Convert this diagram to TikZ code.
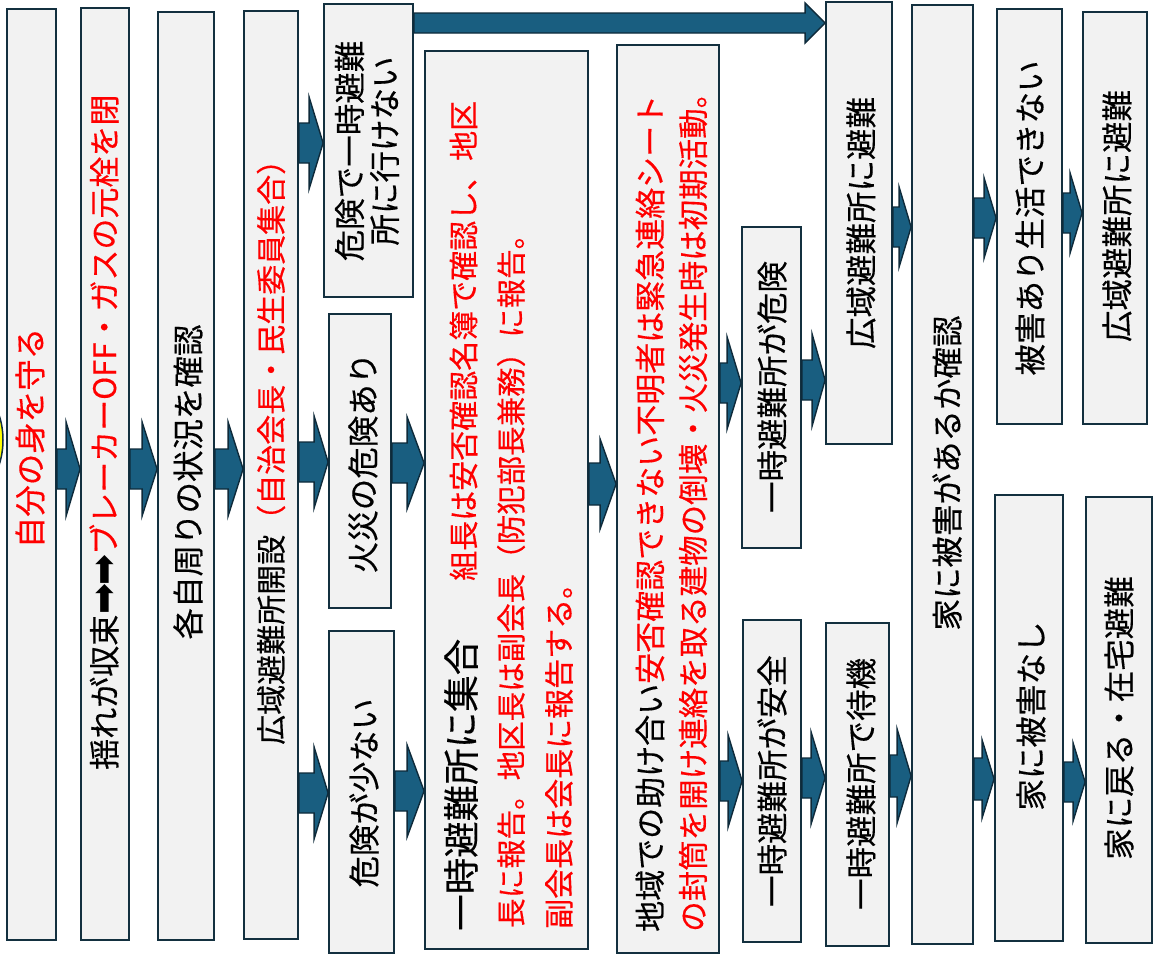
\documentclass[tikz,border=0pt]{standalone}
\usepackage{fontspec}
\setmainfont{Noto Sans CJK JP}[FakeBold=0.35]
\newfontfamily\dv{DejaVu Sans}
\usetikzlibrary{calc}
\definecolor{boxfill}{HTML}{F2F2F2}
\definecolor{boxline}{HTML}{13303F}
\definecolor{arrfill}{HTML}{195E80}
\definecolor{arrline}{HTML}{0E2A3A}
\definecolor{jred}{HTML}{FF0000}
\definecolor{sunyellow}{HTML}{FFFF00}
\tikzset{
  box/.style={draw=boxline, fill=boxfill, line width=1.8pt, rectangle, inner sep=0pt},
  lbl/.style={rotate=90, inner sep=0pt, font=\fontsize{31.5}{36}\selectfont, text=black},
  arr/.style={fill=arrfill, draw=arrline, line width=1.4pt, line join=miter},
}
\newcommand{\bx}[5]{\node[box, minimum width={(#4-#2)*1pt}, minimum height={(#5-#3)*1pt}] (#1) at ({(#2+#4)/2},{(#3+#5)/2}) {};}
\newcommand{\barr}[6]{%
  \path (#1.east |- 0,#3) coordinate (as) (#2.west |- 0,#3) coordinate (ae);
  \draw[arr] let \p1=(as), \p2=(ae) in
    (\x1,\y1+#4pt) -- (\x2-#6pt,\y1+#4pt) -- (\x2-#6pt,\y1+#5pt) -- (\x2,\y1)
    -- (\x2-#6pt,\y1-#5pt) -- (\x2-#6pt,\y1-#4pt) -- (\x1,\y1-#4pt) -- cycle;}
\begin{document}
\begin{tikzpicture}[x=1pt,y=-1pt]
\useasboundingbox (0,0) rectangle (1160,956);
\fill[white] (0,0) rectangle (1160,956);
\begin{scope}
  \clip (0,0) rectangle (1160,956);
  \draw[fill=sunyellow, draw=boxline, line width=1.5pt] (-50,440) ellipse [x radius=53, y radius=66];
\end{scope}
% boxes
\bx{b1}{7}{9}{56}{940}
\bx{b2}{81}{8}{129}{940}
\bx{b3}{158}{12}{214}{940}
\bx{b4}{244}{11}{298}{939}
\bx{b5}{324}{4}{413}{297}
\bx{b6}{329}{314}{391}{608}
\bx{b7}{329}{631}{394}{953}
\bx{b8}{425}{51}{588}{949}
\bx{b9}{617}{45}{719}{953}
\bx{b10}{742}{227}{801}{548}
\bx{b11}{743}{620}{801}{942}
\bx{b12}{826}{2}{892}{444}
\bx{b13}{826}{623}{889}{946}
\bx{b14}{912}{5}{973}{944}
\bx{b15}{997}{9}{1062}{424}
\bx{b16}{1083}{12}{1147}{424}
\bx{b17}{995}{495}{1063}{941}
\bx{b18}{1086}{497}{1152}{943}
% arrows
\barr{b1}{b2}{469}{20}{47}{14}
\barr{b2}{b3}{469}{20}{47}{15}
\barr{b3}{b4}{469}{20}{47}{15}
\barr{b4}{b5}{143}{20}{46}{14}
\barr{b4}{b6}{462}{20}{46}{14}
\barr{b4}{b7}{793}{20}{46}{14}
\barr{b6}{b8}{463}{20}{46}{17}
\barr{b7}{b8}{791}{20}{46}{17}
\barr{b5}{b12}{23}{10}{20}{20}
\barr{b8}{b9}{484}{21}{45}{16}
\barr{b9}{b10}{383}{20}{46}{14}
\barr{b9}{b11}{781}{20}{46}{14}
\barr{b10}{b12}{380}{20}{46}{13}
\barr{b11}{b13}{778}{20}{46}{14}
\barr{b12}{b14}{227}{20}{40}{12}
\barr{b13}{b14}{776}{21}{47}{14}
\barr{b14}{b15}{218}{20}{40}{12}
\barr{b15}{b16}{213}{20}{40}{12}
\barr{b14}{b17}{779}{21}{39}{12}
\barr{b17}{b18}{782}{20}{39}{12}
% texts
\node[lbl, text=jred] (t1) at (30,438) {自分の身を守る};
\node[lbl, anchor=west, font=\fontsize{31}{36}\selectfont] (t2) at (104,770) {揺れが収束{\dv\fontsize{37}{40}\selectfont ➡\kern-2pt➡}\textcolor{jred}{ブレーカーOFF・ガスの元栓を閉}};
\node[lbl] (t3) at (188,482) {各自周りの状況を確認};
\node[lbl, anchor=west, font=\fontsize{30}{36}\selectfont] (t4) at (271,745) {広域避難所開設\textcolor{jred}{（自治会長・民生委員集合）}};
\node[lbl, align=center, font=\fontsize{31.5}{35}\selectfont] (t5) at (367,151) {危険で一時避難\\所に行けない};
\node[lbl] (t6) at (363,463) {火災の危険あり};
\node[lbl] (t7) at (364,793) {危険が少ない};
\node[lbl, anchor=west] (t8a) at (461,931) {{\fontsize{36.5}{40}\selectfont 一時避難所に集合}\hspace{58pt}\textcolor{jred}{\fontsize{30}{36}\selectfont 組長は安否確認名簿で確認し、地区}};
\node[lbl, anchor=west, text=jred, font=\fontsize{29.5}{36}\selectfont] (t8b) at (511,928) {長に報告。地区長は副会長（防犯部長兼務）に報告。};
\node[lbl, anchor=west, text=jred, font=\fontsize{30}{36}\selectfont] (t8c) at (559,929) {副会長は会長に報告する。};
\node[lbl, anchor=west, font=\fontsize{31}{36}\selectfont] (t9a) at (650,932) {地域での助け合い\textcolor{jred}{安否確認できない不明者は緊急連絡シート}};
\node[lbl, anchor=west, text=jred, font=\fontsize{30.5}{36}\selectfont] (t9b) at (693,932) {の封筒を開け連絡を取る建物の倒壊・火災発生時は初期活動。};
\node[lbl] (t10) at (772,387) {一時避難所が危険};
\node[lbl] (t11) at (772,781) {一時避難所が安全};
\node[lbl] (t12) at (861,223) {広域避難所に避難};
\node[lbl] (t13) at (861,784) {一時避難所で待機};
\node[lbl] (t14) at (947,473) {家に被害があるか確認};
\node[lbl] (t15) at (1030,218) {被害あり生活できない};
\node[lbl] (t16) at (1117,216) {広域避難所に避難};
\node[lbl] (t17) at (1031,716) {家に被害なし};
\node[lbl] (t18) at (1119,718) {家に戻る・在宅避難};
\end{tikzpicture}
\end{document}
